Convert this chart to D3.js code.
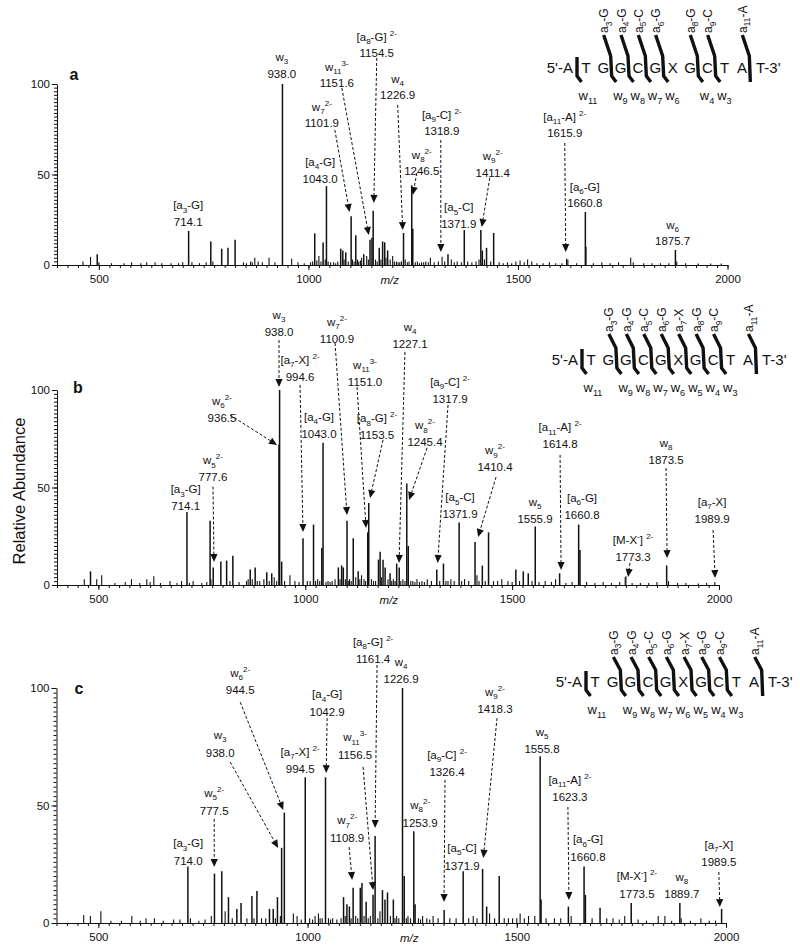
<!DOCTYPE html>
<html><head><meta charset="utf-8">
<script src="https://cdn.jsdelivr.net/npm/d3@7"></script>
<style>body{margin:0;background:#fff} text{font-family:"Liberation Sans",Arial,Helvetica,sans-serif;white-space:pre}</style>
</head><body>
<svg id="chart" width="800" height="949"></svg>
<script>
// ---------------- DATA ----------------
const xTickLabels = [500, 1000, 1500, 2000];
const yTickLabels = [0, 50, 100];
const seqLetters = ["5'-A","T","G","G","C","G","X","G","C","T","A","T-3'"];

// peaks: [m/z, relative abundance]
const peaksA = [[714.1,18.8],[938.0,100],[1043.0,43.6],[1101.9,27],[1151.6,15],[1154.5,30],[1226.9,17.7],[1246.5,44],[1318.9,4.5],[1371.9,19.3],[1411.4,19.3],[1615.9,3.5],[1660.8,29.3],[1875.7,8.3],
[462,2],[480,4.5],[496,6],[500,1.5],[530,1],[560,1],[578,1.5],[600,1],[614,1.5],[634,1.5],[650,1],[672,1],[690,1],[700,1.5],[722,1.5],[740,1],[756,1.5],[767,13],[772,2],[793,9],[808,9.5],[825,14],[845,1.5],[852,1],[862,2],[866,1.5],[872,4],[880,2],[890,1.5],[906,4],[920,1.5],[960,3.5],[975,1.5],[990,1],[1005,1.5],[1010,2],[1015,17.5],[1020,2.5],[1025,5],[1030,2],[1035,12.5],[1040,3],[1047,2],[1053,1.5],[1060,1.5],[1065,1],[1070,2],[1077,9],[1082,8],[1085,3],[1089,7],[1095,2],[1105,3],[1109,2],[1113,16.5],[1117,3],[1120,2],[1124,2.5],[1127,4],[1132,6],[1139,5],[1143,3],[1147,14],[1160,3],[1164,2],[1169,9.5],[1173,3],[1177,13],[1182,12.5],[1185,4],[1189,8],[1195,3],[1201,5],[1205,2],[1210,2],[1214,1.5],[1218,1.5],[1222,2],[1231,3],[1236,1.5],[1240,2],[1249,20],[1255,1.5],[1260,2],[1265,1],[1270,1.5],[1275,1.5],[1280,2],[1286,1.5],[1291,4],[1300,1.5],[1310,2],[1325,2],[1333,6],[1341,3],[1348,1.5],[1355,2],[1365,1.5],[1380,2],[1390,1.5],[1400,2],[1407,3],[1415,8],[1420,3],[1425,9.5],[1435,2],[1442,17.7],[1455,1.5],[1465,1],[1475,1.5],[1485,1],[1495,2],[1505,2.5],[1515,1.5],[1523,3],[1533,2],[1545,1],[1560,1],[1575,1.5],[1590,1],[1605,1],[1619,3],[1640,1],[1662,10],[1680,1],[1700,1.5],[1720,1],[1740,1.5],[1769,4],[1775,1.5],[1800,1],[1820,1],[1840,1],[1860,1],[1879,2],[1900,1],[1930,0.8],[1960,0.8],[1985,0.8]];

const peaksB = [[714.1,37.4],[777.6,9],[936.5,72],[938.0,100],[994.6,24],[1043.0,73],[1100.9,33],[1151.0,27],[1153.5,42],[1227.1,9],[1245.4,52],[1317.9,8],[1371.9,32],[1410.4,22],[1555.9,30],[1614.8,6],[1660.8,31],[1773.3,4],[1873.5,10],[1989.9,1.5],
[466,3],[481,7],[496,3],[508,5],[540,1],[565,1.5],[580,3],[600,1],[617,3],[625,1.5],[634,4.5],[650,1],[673,2],[690,1],[701,2],[720,1],[729,2],[750,1],[762,1.5],[770,33],[772,3],[796,12],[810,12.5],[818,2],[825,15],[840,1.5],[858,2],[862,3],[867,8],[872,3],[879,9],[884,2],[890,2],[900,3],[907,6.5],[913,2],[919,6],[925,4],[931,2],[943,12],[950,2],[963,5],[975,2],[985,1.5],[1005,2],[1012,2],[1020,31],[1025,2],[1030,3],[1035,2],[1040,19],[1050,1.5],[1055,2],[1060,1.5],[1065,2],[1072,3],[1080,9],[1084,3],[1088,10],[1092,9],[1097,3],[1104,2],[1107,3],[1111,2],[1116,24],[1122,4],[1128,7],[1132,3],[1136,5],[1142,3],[1146,2],[1160,3],[1165,2],[1170,2],[1177,13],[1181,17],[1184,4],[1188,13],[1193,9],[1200,3],[1205,6],[1209,2],[1213,3],[1217,2],[1221,11],[1231,2],[1236,3],[1241,2],[1249,20],[1255,2],[1260,2],[1265,1.5],[1270,3],[1276,1.5],[1282,2],[1288,1.5],[1295,3],[1305,2],[1325,2],[1334,11],[1340,2],[1345,2],[1352,3],[1360,2],[1378,2],[1385,3],[1395,2],[1415,5],[1420,2],[1428,10],[1435,2],[1443,27],[1455,2],[1465,2],[1475,3],[1490,2],[1500,1.5],[1509,8],[1518,2],[1527,7],[1539,6],[1548,2],[1565,1.5],[1580,2],[1595,1.5],[1605,3],[1630,1],[1645,1.5],[1664,18],[1680,1.5],[1700,1],[1720,1.5],[1740,1],[1760,1.5],[1775,4.5],[1790,1],[1810,1],[1830,1],[1850,1.5],[1878,2],[1900,1],[1920,1],[1950,0.8],[1970,1]];

const peaksC = [[714.0,24],[777.5,21],[938.0,32],[944.5,47],[994.5,62],[1042.9,62],[1108.9,15],[1156.5,12],[1161.4,37],[1226.9,100],[1253.9,39],[1326.4,5.5],[1371.9,22],[1418.3,23],[1555.8,71],[1623.3,7],[1660.8,24],[1773.5,8.5],[1889.7,8.5],[1989.5,6],
[465,3.4],[481,3],[506,5],[530,1],[555,1],[580,3],[600,1],[614,2],[634,2],[655,1],[680,1.5],[695,1.5],[720,2],[740,1],[755,1.5],[770,3],[795,22],[803,5],[811,11],[820,2],[831,6],[841,8.5],[855,2],[867,11.5],[872,2],[879,13.6],[890,2],[900,2],[909,6],[918,6],[923,2],[928,11],[935,3],[966,4],[975,3],[985,1.5],[1005,2],[1012,1.5],[1018,3],[1026,4],[1030,2],[1035,2],[1050,2],[1055,1.5],[1060,2],[1070,1.5],[1080,2],[1086,11],[1090,3],[1094,8],[1100,7],[1104,2],[1115,3],[1120,2],[1126,15],[1130,17],[1135,3],[1140,9],[1145,2],[1150,3],[1168,2],[1173,5],[1179,14],[1185,10],[1191,13],[1198,3],[1205,10],[1209,2],[1213,3],[1218,2],[1231,20],[1236,2],[1240,3],[1246,2],[1257,8],[1265,2],[1270,1.5],[1275,3],[1285,2],[1292,1.5],[1300,3],[1312,2],[1340,2],[1355,2],[1385,2],[1396,3],[1405,2],[1428,7],[1435,4],[1447,2],[1458,20],[1470,2],[1480,2],[1490,2],[1500,2],[1508,4],[1518,2],[1528,3],[1543,3],[1558,10],[1570,2],[1590,2],[1605,2],[1630,3],[1664,12],[1680,2],[1699,6.5],[1715,2],[1730,2],[1745,1.5],[1758,3],[1790,1.5],[1810,1],[1838,3],[1854,3],[1870,1],[1893,2],[1915,1],[1940,2],[1960,1],[1975,1]];

// annotations: [label, m/z text]
const annA = [["[a_{3}-G]","714.1"],["w_{3}","938.0"],["[a_{4}-G]","1043.0"],["w_{7}^{2-}","1101.9"],["w_{11}^{3-}","1151.6"],["[a_{8}-G] ^{2-}","1154.5"],["w_{4}","1226.9"],["w_{8}^{2-}","1246.5"],["[a_{9}-C] ^{2-}","1318.9"],["[a_{5}-C]","1371.9"],["w_{9}^{2-}","1411.4"],["[a_{11}-A] ^{2-}","1615.9"],["[a_{6}-G]","1660.8"],["w_{6}","1875.7"]];
const annB = [["[a_{3}-G]","714.1"],["w_{5}^{2-}","777.6"],["w_{6}^{2-}","936.5"],["w_{3}","938.0"],["[a_{7}-X] ^{2-}","994.6"],["[a_{4}-G]","1043.0"],["w_{7}^{2-}","1100.9"],["w_{11}^{3-}","1151.0"],["[a_{8}-G] ^{2-}","1153.5"],["w_{4}","1227.1"],["w_{8}^{2-}","1245.4"],["[a_{9}-C] ^{2-}","1317.9"],["[a_{5}-C]","1371.9"],["w_{9}^{2-}","1410.4"],["w_{5}","1555.9"],["[a_{11}-A] ^{2-}","1614.8"],["[a_{6}-G]","1660.8"],["[M-X^{-}] ^{2-}","1773.3"],["w_{8}","1873.5"],["[a_{7}-X]","1989.9"]];
const annC = [["[a_{3}-G]","714.0"],["w_{5}^{2-}","777.5"],["w_{3}","938.0"],["w_{6}^{2-}","944.5"],["[a_{7}-X] ^{2-}","994.5"],["[a_{4}-G]","1042.9"],["w_{11}^{3-}","1156.5"],["w_{7}^{2-}","1108.9"],["[a_{8}-G] ^{2-}","1161.4"],["w_{4}","1226.9"],["w_{8}^{2-}","1253.9"],["[a_{9}-C] ^{2-}","1326.4"],["[a_{5}-C]","1371.9"],["w_{9}^{2-}","1418.3"],["w_{5}","1555.8"],["[a_{11}-A] ^{2-}","1623.3"],["[a_{6}-G]","1660.8"],["[M-X^{-}] ^{2-}","1773.5"],["w_{8}","1889.7"],["[a_{7}-X]","1989.5"]];

// cleavage sites: [after letter index, a-label, w-label]
const cutsA = [[0,null,"w_{11}"],[2,"a_{3}-G","w_{9}"],[3,"a_{4}-G","w_{8}"],[4,"a_{5}-C","w_{7}"],[5,"a_{6}-G","w_{6}"],[7,"a_{8}-G","w_{4}"],[8,"a_{9}-C","w_{3}"],[10,"a_{11}-A",null]];
const cutsBC = [[0,null,"w_{11}"],[2,"a_{3}-G","w_{9}"],[3,"a_{4}-G","w_{8}"],[4,"a_{5}-C","w_{7}"],[5,"a_{6}-G","w_{6}"],[6,"a_{7}-X","w_{5}"],[7,"a_{8}-G","w_{4}"],[8,"a_{9}-C","w_{3}"],[10,"a_{11}-A",null]];

// ---------------- LAYOUT (label placement in data units: m/z, abundance) ----------------
const posA = [[713,33.1],[936.6,114.9],[1028,56.9],[1032,87.3,1063,74.6,1098,29.3],[1067.8,109.4,1079.7,97.8,1144,16.6],[1163,126,1163,114.4,1156,34.3],[1213,102.8,1213,88.4,1225,19.3],[1270.5,60.8,1258.6,50.8,1249,38.7],[1318.2,82.9,1315.8,69.1,1316,7.2],[1358.7,32],[1439.8,60.2,1432.7,48.1,1413.6,21],[1611.6,81.8,1611.6,67.4,1614,7.2],[1659.3,43.1],[1869,22.1]];
const posB = [[711,49],[777,64,777,50.5,779.5,11.8],[798.8,94.4,818.2,87.2,931.8,71.8],[936.6,138.5,936.6,125.6,936.6,101.5],[987.4,115.4,987.4,102.6,994.6,27.2],[1033.3,86.2],[1076.8,134.9,1072,124.1,1101,35.9],[1144.5,112.8,1125.2,101.5,1147,29.2],[1173.5,85.6,1188,74.4,1156.6,44.6],[1253.3,132.3,1241,119.5,1226.7,11.3],[1289.5,82,1294.4,70.3,1250.9,43.6],[1350,104.1,1345.1,92.3,1320,11.3],[1374.1,45.1],[1458.7,69.2,1461.2,55.4,1417.7,24.6],[1555.4,42.6],[1615.9,81,1615.9,66.7,1618.3,7.7],[1669,44.6],[1792.3,23.1,1785,11.3,1780.2,4.1],[1872.1,72.8,1872,60,1874.6,13.8],[1983.3,42.6,1985.7,28.2,1990.6,3.6]];
const posC = [[714.8,34],[776.9,55.3,776.9,44.3,776.9,23.8],[791.2,80,815.1,68.5,929.7,31.9],[839,106.4,839,94,941.8,48.1],[982.3,72.8],[1046.8,97.4,1046.8,87.2,1044.4,63.8],[1113.6,79.1,1132.7,66.4,1156.6,14],[1094.5,43.8,1099.3,32.3,1106.5,18.3],[1156.6,119.6,1166.1,109.8,1161.4,40.4],[1223.5,111.1],[1269,50.2],[1333.3,71.5,1328.5,60.9,1326.1,8.9],[1369.2,31.9],[1448,98.3,1452.8,87.2,1420,27.7],[1560.4,81.3],[1627,60.9,1622.2,49.4,1624.6,9.8],[1670.1,35.7],[1787.2,20],[1894.6,19.6],[1982.9,33.2,1982.9,21.7,1985.3,6.8]];

const panels = [
  {letter:"a", peaks:peaksA, ann:annA, pos:posA, cuts:cutsA, xr:[57,727.5], yr:[265,84], lineGap:16.5, mzLabel:1194, seq:{Y:68,T:586,A:742,top:33}, letterPos:[74,80]},
  {letter:"b", peaks:peaksB, ann:annB, pos:posB, cuts:cutsBC, xr:[57,719], yr:[585,390], lineGap:17, mzLabel:1202, seq:{Y:360,T:591,A:748,top:26}, letterPos:[78,393]},
  {letter:"c", peaks:peaksC, ann:annC, pos:posC, cuts:cutsBC, xr:[56.5,726], yr:[923,688], lineGap:17.5, mzLabel:1243, seq:{Y:682,T:595,A:754,top:25}, letterPos:[79,694]}
];

const svg = d3.select("#chart");
svg.append("rect").attr("width",800).attr("height",949).attr("fill","#fff");
const INK = "#111";

function richText(sel, str, fs) {
  const parts = str.split(/(_\{[^}]*\}|\^\{[^}]*\})/).filter(s => s.length);
  let cur = 0;
  parts.forEach(p => {
    let target = 0, txt = p, small = false;
    if (p.startsWith("_{")) { target = fs * 0.3; txt = p.slice(2, -1); small = true; }
    else if (p.startsWith("^{")) { target = -fs * 0.42; txt = p.slice(2, -1); small = true; }
    sel.append("tspan").attr("dy", (target - cur).toFixed(2)).attr("font-size", small ? fs * 0.7 : fs).text(txt);
    cur = target;
  });
}

panels.forEach(P => {
  const x = d3.scaleLinear().domain([400, 2000]).range(P.xr);
  const y = d3.scaleLinear().domain([0, 100]).range(P.yr);
  const g = svg.append("g");

  // peaks
  g.append("g").selectAll("line").data(P.peaks).join("line")
    .attr("x1", d => x(d[0])).attr("x2", d => x(d[0]))
    .attr("y1", y(0)).attr("y2", d => y(d[1]))
    .attr("stroke", INK).attr("stroke-width", d => d[1] > 5 ? 1.5 : 1.1);

  // x axis
  const xMinor = d3.axisBottom(x).tickValues(d3.range(400, 2001, 25)).tickSize(3).tickSizeOuter(0).tickFormat("");
  const xMajor = d3.axisBottom(x).tickValues(xTickLabels).tickSize(5).tickSizeOuter(0).tickPadding(5).tickFormat(d3.format("d"));
  const gx1 = g.append("g").attr("transform", `translate(0,${y(0)})`).call(xMinor);
  const gx2 = g.append("g").attr("transform", `translate(0,${y(0)})`).call(xMajor);
  gx2.select(".domain").remove();
  [gx1, gx2].forEach(a => { a.selectAll("path,line").attr("stroke", INK).attr("stroke-width", 1); });
  gx2.selectAll("text").attr("font-size", 11.5).attr("fill", INK).attr("font-family", "Liberation Sans, Arial, sans-serif");

  // y axis
  const yMinor = d3.axisLeft(y).tickValues(d3.range(0, 101, 2)).tickSize(3).tickSizeOuter(0).tickFormat("");
  const yMajor = d3.axisLeft(y).tickValues(yTickLabels).tickSize(5).tickSizeOuter(0).tickPadding(2).tickFormat(d3.format("d"));
  const gy1 = g.append("g").attr("transform", `translate(${P.xr[0]},0)`).call(yMinor);
  const gy2 = g.append("g").attr("transform", `translate(${P.xr[0]},0)`).call(yMajor);
  gy2.select(".domain").remove();
  [gy1, gy2].forEach(a => { a.selectAll("path,line").attr("stroke", INK).attr("stroke-width", 1); });
  gy2.selectAll("text").attr("font-size", 11.5).attr("fill", INK).attr("font-family", "Liberation Sans, Arial, sans-serif");

  // m/z label
  g.append("text").attr("x", x(P.mzLabel)).attr("y", y(0) + 18.5).attr("text-anchor", "middle")
    .attr("font-size", 11.5).attr("font-style", "italic").attr("fill", INK).text("m/z");

  // panel letter
  g.append("text").attr("x", P.letterPos[0]).attr("y", P.letterPos[1]).attr("text-anchor", "middle")
    .attr("font-size", 16).attr("font-weight", "bold").attr("fill", INK).text(P.letter);

  // annotations
  P.ann.forEach((a, i) => {
    const p = P.pos[i];
    const lx = x(p[0]), ly = y(p[1]);
    const t1 = g.append("text").attr("x", lx).attr("y", ly + 4).attr("text-anchor", "middle").attr("fill", INK).attr("font-size", 11.5);
    richText(t1, a[0], 11.5);
    g.append("text").attr("x", lx).attr("y", ly + 4 + P.lineGap).attr("text-anchor", "middle")
      .attr("fill", INK).attr("font-size", 11.5).text(a[1]);
    if (p.length > 2) {
      const x1 = x(p[2]), y1 = y(p[3]), x2 = x(p[4]), y2 = y(p[5]);
      const dx = x2 - x1, dy = y2 - y1, L = Math.hypot(dx, dy), ux = dx / L, uy = dy / L;
      const hl = 8, hw = 3.6;
      const bx = x2 - ux * hl, by = y2 - uy * hl;
      g.append("line").attr("x1", x1).attr("y1", y1).attr("x2", bx).attr("y2", by)
        .attr("stroke", INK).attr("stroke-width", 1).attr("stroke-dasharray", "3,2");
      g.append("path").attr("d", `M${x2},${y2}L${bx - uy * hw},${by + ux * hw}L${bx + uy * hw},${by - ux * hw}Z`).attr("fill", INK);
    }
  });

  // sequence diagram
  const S = P.seq;
  const sp = d3.scalePoint().domain(d3.range(1, 11)).range([S.T, S.A]);
  const step = sp.step();
  const cx = i => i === 0 ? S.T - step : (i === 11 ? S.A + step : sp(i));
  seqLetters.forEach((L, i) => {
    const t = g.append("text").attr("y", S.Y + 5.4).attr("font-size", 15).attr("fill", INK).text(L);
    if (i === 0) t.attr("x", S.T - 13).attr("text-anchor", "end");
    else if (i === 11) t.attr("x", S.A + 14).attr("text-anchor", "start");
    else t.attr("x", sp(i)).attr("text-anchor", "middle");
  });
  P.cuts.forEach(c => {
    const mx = cx(c[0] + 1) - 9;
    const pts = [];
    if (c[1]) { pts.push([mx - 8, S.Y - S.top], [mx - 1, S.Y - 12]); } else { pts.push([mx, S.Y - 11]); }
    if (c[2]) { pts.push([mx, S.Y + 8], [mx + 4.5, S.Y + 14]); } else { pts.push([mx, S.Y + 14]); }
    g.append("path").attr("d", d3.line()(pts)).attr("fill", "none").attr("stroke", INK)
      .attr("stroke-width", 3.4).attr("stroke-linejoin", "round");
    if (c[1]) {
      const t = g.append("text").attr("transform", `translate(${mx - 8 + 4.5},${S.Y - S.top - 2}) rotate(-90)`)
        .attr("font-size", 12).attr("fill", INK);
      richText(t, c[1], 12);
    }
    if (c[2]) {
      const t = g.append("text").attr("x", mx + 1.5).attr("y", S.Y + 32).attr("font-size", 13).attr("fill", INK);
      richText(t, c[2], 13);
    }
  });
});

// shared y-axis title
svg.append("text").attr("transform", "translate(25,491) rotate(-90)").attr("text-anchor", "middle")
  .attr("font-size", 16.5).attr("fill", INK).text("Relative Abundance");
</script>
</body></html>
